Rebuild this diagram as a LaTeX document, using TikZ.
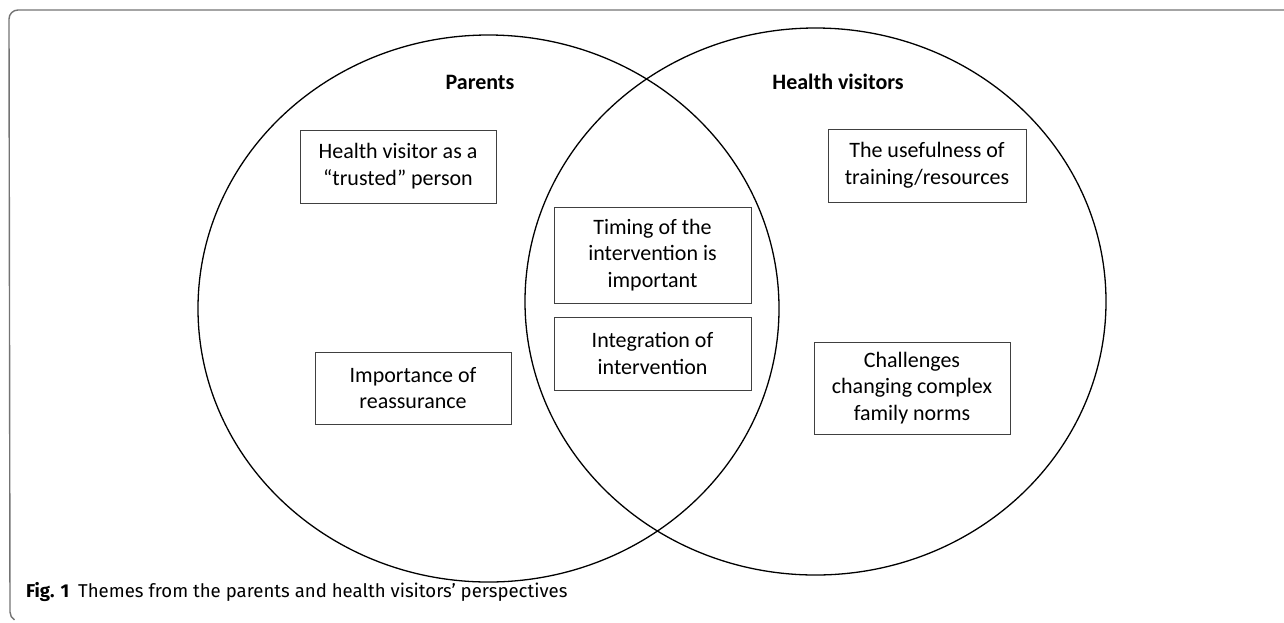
\documentclass[tikz,border=0pt]{standalone}
\usepackage{fontspec}
\setmainfont{Carlito}
\newfontfamily\capfont{Fira Sans}
\begin{document}
\begin{tikzpicture}[x=1pt,y=-1pt,
  theme/.style={draw=black!75,line width=0.9pt,align=center,inner sep=0pt,
    font=\fontsize{22}{26.8}\selectfont},
  setring/.style={draw=black,line width=1.3pt},
  settitle/.style={font=\fontsize{22}{26}\selectfont\bfseries},
  frameline/.style={draw=black!55,line width=1.4pt}]
\useasboundingbox (0,0) rectangle (1284,622);
% figure frame: top rule and left edge with rounded corners
\draw[frameline] (1284,10) -- (18,10) arc[start angle=90,end angle=180,radius=9pt]
  -- (10,612) arc[start angle=180,end angle=240,radius=9pt];
% the two sets
\draw[setring] (488.5,308.5) ellipse [x radius=290.5pt, y radius=273.5pt];
\draw[setring] (815.5,301.5) ellipse [x radius=290.5pt, y radius=273.5pt];
\node[settitle] (parents) at (480,82) {Parents};
\node[settitle] (hv) at (838,82) {Health visitors};
% themes
\node[theme,minimum width=196pt,minimum height=73pt] (trusted) at (398,166.5)
  {Health visitor as a\\“trusted” person};
\node[theme,minimum width=196pt,minimum height=72pt] (reassure) at (413,388)
  {Importance of\\reassurance};
\node[theme,minimum width=197pt,minimum height=96pt] (timing) at (652.5,255)
  {Timing of the\\intervention is\\important};
\node[theme,minimum width=197pt,minimum height=73pt] (integ) at (652.5,353.5)
  {Integration of\\intervention};
\node[theme,minimum width=198pt,minimum height=73pt] (useful) at (927,165.5)
  {The usefulness of\\training/resources};
\node[theme,minimum width=196pt,minimum height=92pt] (norms) at (912,388)
  {Challenges\\changing complex\\family norms};
% caption
\node[anchor=base west,inner sep=0pt,font=\capfont\fontsize{18.6}{22}\selectfont] (cap) at (26,597)
  {\textbf{Fig. 1}\hspace{9pt}Themes from the parents and health visitors’ perspectives};
\end{tikzpicture}
\end{document}
